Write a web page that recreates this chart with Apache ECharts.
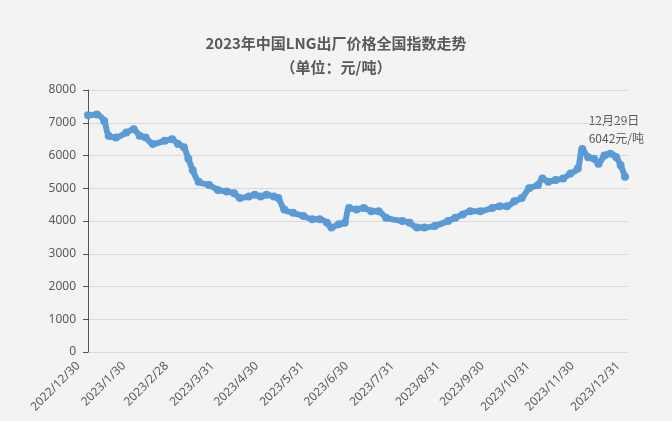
<!DOCTYPE html>
<html><head><meta charset="utf-8">
<script src="https://cdn.jsdelivr.net/npm/echarts@6/dist/echarts.min.js"></script>
<style>html,body{margin:0;padding:0;background:#f3f3f3}#c{width:672px;height:421px}</style>
</head><body><div id="c"></div>
<script>
const dates = ['2022-12-30','2023-01-05','2023-01-10','2023-01-13','2023-01-18','2023-01-25','2023-01-30','2023-02-03','2023-02-07','2023-02-12','2023-02-20','2023-02-25','2023-03-01','2023-03-05','2023-03-08','2023-03-11','2023-03-15','2023-03-22','2023-03-28','2023-04-03','2023-04-08','2023-04-12','2023-04-18','2023-04-22','2023-04-26','2023-04-30','2023-05-05','2023-05-08','2023-05-12','2023-05-18','2023-05-25','2023-05-31','2023-06-05','2023-06-10','2023-06-13','2023-06-18','2023-06-22','2023-06-25','2023-06-30','2023-07-05','2023-07-10','2023-07-15','2023-07-20','2023-07-31','2023-08-05','2023-08-10','2023-08-15','2023-08-22','2023-08-31','2023-09-05','2023-09-10','2023-09-15','2023-09-22','2023-09-30','2023-10-05','2023-10-10','2023-10-15','2023-10-20','2023-10-25','2023-10-31','2023-11-03','2023-11-07','2023-11-12','2023-11-17','2023-11-22','2023-11-27','2023-11-30','2023-12-04','2023-12-08','2023-12-11','2023-12-15','2023-12-19','2023-12-23','2023-12-26','2023-12-29'];
const prices = [7230,7250,7050,6600,6550,6700,6800,6600,6550,6350,6450,6500,6350,6250,5900,5550,5200,5100,4950,4900,4850,4700,4750,4800,4750,4800,4750,4700,4350,4250,4150,4050,4050,3950,3800,3900,3950,4400,4350,4400,4300,4300,4100,4000,3950,3800,3800,3850,4000,4100,4200,4300,4300,4400,4450,4450,4600,4700,5000,5100,5300,5200,5250,5300,5450,5600,6200,5950,5900,5750,6000,6050,5950,5700,5350];
const tickDates = ['2022-12-30','2023-01-30','2023-02-28','2023-03-31','2023-04-30','2023-05-31','2023-06-30','2023-07-31','2023-08-31','2023-09-30','2023-10-31','2023-11-30','2023-12-31'];
const titleText = '2023年中国LNG出厂价格全国指数走势';
const subText = '（单位：元/吨）';
const noteText = '12月29日\n6042元/吨';

const ms = d => Date.UTC(+d.slice(0,4), +d.slice(5,7) - 1, +d.slice(8,10));
const tickMs = tickDates.map(ms);
const chart = echarts.init(document.getElementById('c'));
chart.setOption({
  backgroundColor: '#f3f3f3',
  animation: false,
  title: {
    text: titleText, subtext: subText, left: 'center', top: 31, itemGap: 9,
    textStyle: {fontFamily: 'Noto Sans CJK SC', fontSize: 15, fontWeight: 'bold', color: '#595959'},
    subtextStyle: {fontFamily: 'Noto Sans CJK SC', fontSize: 15, fontWeight: 'bold', color: '#595959'}
  },
  grid: {left: 88, right: 44, top: 90, bottom: 69},
  xAxis: {
    type: 'value',
    min: tickMs[0], max: tickMs[tickMs.length - 1],
    axisLine: {show: false}, axisTick: {show: false}, splitLine: {show: false},
    axisLabel: {
      customValues: tickMs, rotate: 45, color: '#595959', fontSize: 12, margin: 2,
      fontFamily: 'Noto Sans', showMinLabel: true, showMaxLabel: true, padding: [0, 14, 0, 0],
      formatter: v => { const d = new Date(v); return d.getUTCFullYear() + '/' + (d.getUTCMonth() + 1) + '/' + d.getUTCDate(); }
    }
  },
  yAxis: {
    type: 'value', min: 0, max: 8000, interval: 1000,
    axisLabel: {color: '#595959', fontSize: 12, margin: 12, fontFamily: 'Noto Sans', formatter: v => String(v)},
    splitLine: {lineStyle: {color: '#d9d9d9'}}
  },
  graphic: [{type: 'text', right: 28, top: 111, style: {text: noteText, fill: '#595959', font: '12px "Noto Sans CJK SC"', align: 'right', lineHeight: 18}}],
  series: [{
    type: 'line', data: dates.map((d, i) => [ms(d), prices[i]]),
    smooth: 0.3, symbol: 'circle', symbolSize: 8, showAllSymbol: true,
    lineStyle: {color: '#5b9bd5', width: 6}, itemStyle: {color: '#5b9bd5'}
  }]
});
</script></body></html>
